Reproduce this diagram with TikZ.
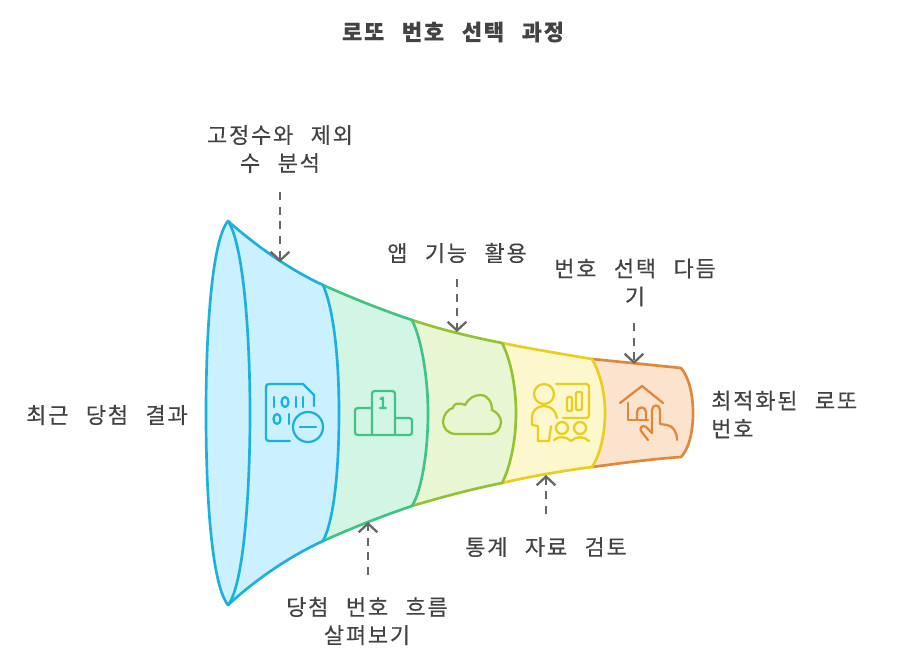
\documentclass[tikz,border=0pt]{standalone}
\usepackage{fontspec}
\usetikzlibrary{arrows.meta}
\newfontfamily\krfont[WordSpace=2.6,LetterSpace=8,FakeBold=0.25]{Noto Sans CJK KR}
\definecolor{ink}{HTML}{434343}
\definecolor{arrowgray}{HTML}{666666}
\definecolor{blueS}{HTML}{1CB0E0}\definecolor{blueF}{HTML}{CBF0FF}
\definecolor{greenS}{HTML}{3CC583}\definecolor{greenF}{HTML}{D3F5E4}
\definecolor{limeS}{HTML}{93C332}\definecolor{limeF}{HTML}{E9F6D3}
\definecolor{yellowS}{HTML}{E8CF1E}\definecolor{yellowF}{HTML}{FDF7CD}
\definecolor{orangeS}{HTML}{E18739}\definecolor{orangeF}{HTML}{FCE3CD}
\tikzset{
 lbl/.style={text=ink,font=\krfont\fontsize{16.5pt}{21pt}\selectfont,inner sep=0pt},
 ttl/.style={lbl,font=\krfont\bfseries\fontsize{16.5pt}{21pt}\selectfont},
 conn/.style={draw=arrowgray,line width=1.7pt,dash pattern=on 6pt off 5pt,-{Straight Barb[length=6.5pt,width=14pt,line width=1.7pt]}},
 seamline/.style={line width=2pt,line join=round,line cap=round},
 ico/.style={line width=1.7pt,line join=round,line cap=round},
}
\begin{document}
\begin{tikzpicture}[x=0.75pt,y=-0.75pt]
\useasboundingbox (0,0) rectangle (900,664);
% segment 5
\fill[orangeF] (592,359) .. controls (622,362) and (652,365) .. (681,368) .. controls (688,376) and (693,392) .. (693,413) .. controls (693,434) and (688,450) .. (681,457) .. controls (652,459) and (622,463) .. (592,467) -- cycle;
\draw[seamline,orangeS] (592,359) .. controls (622,362) and (652,365) .. (681,368) .. controls (688,376) and (693,392) .. (693,413) .. controls (693,434) and (688,450) .. (681,457) .. controls (652,459) and (622,463) .. (592,467);
% segment 4
\fill[yellowF] (502,343) .. controls (532,349) and (562,354) .. (592,359) .. controls (600,373) and (605,392) .. (605,413) .. controls (605,434) and (600,455) .. (592,467) .. controls (562,471) and (532,476) .. (502,483) -- cycle;
\draw[seamline,yellowS] (502,343) .. controls (532,349) and (562,354) .. (592,359) .. controls (600,373) and (605,392) .. (605,413) .. controls (605,434) and (600,455) .. (592,467) .. controls (562,471) and (532,476) .. (502,483);
% segment 3
\fill[limeF] (412,320) .. controls (442,330) and (472,337) .. (502,343) .. controls (510,358) and (516,385) .. (516,413) .. controls (516,441) and (510,468) .. (502,483) .. controls (472,489) and (442,497) .. (412,506) -- cycle;
\draw[seamline,limeS] (412,320) .. controls (442,330) and (472,337) .. (502,343) .. controls (510,358) and (516,385) .. (516,413) .. controls (516,441) and (510,468) .. (502,483) .. controls (472,489) and (442,497) .. (412,506);
% segment 2
\fill[greenF] (323,285) .. controls (352,298) and (382,310) .. (412,320) .. controls (422,340) and (428,380) .. (428,413) .. controls (428,450) and (422,490) .. (412,506) .. controls (382,516) and (352,528) .. (323,541) -- cycle;
\draw[seamline,greenS] (323,285) .. controls (352,298) and (382,310) .. (412,320) .. controls (422,340) and (428,380) .. (428,413) .. controls (428,450) and (422,490) .. (412,506) .. controls (382,516) and (352,528) .. (323,541);
% segment 1
\fill[blueF] (228,221) .. controls (255,245) and (290,270) .. (323,285) .. controls (334,310) and (339,360) .. (339,413) .. controls (339,470) and (334,520) .. (323,541) .. controls (290,556) and (255,580) .. (228,605) -- cycle;
\draw[seamline,blueS] (228,221) .. controls (255,245) and (290,270) .. (323,285) .. controls (334,310) and (339,360) .. (339,413) .. controls (339,470) and (334,520) .. (323,541) .. controls (290,556) and (255,580) .. (228,605);
% mouth
\filldraw[seamline,draw=blueS,fill=blueF] (228,221) .. controls (212,240) and (206,330) .. (206,413) .. controls (206,500) and (212,585) .. (228,605) .. controls (244,585) and (250,490) .. (250,413) .. controls (250,340) and (244,245) .. (228,221) -- cycle;
% icon 1
\begin{scope}[ico,blueS]
\draw (290,441) -- (269,441) .. controls (267,441) and (266,440) .. (266,438) -- (266,387) .. controls (266,385) and (267,384) .. (269,384) -- (303,384) -- (314,395) -- (314,406);
\draw (308,427) circle[radius=15];
\draw (300,427) -- (316,427);
\draw (274,397) -- (274,407);
\draw (285,402) ellipse[x radius=3.5,y radius=5];
\draw (296,397) -- (296,407);
\draw (303,397) -- (303,407);
\draw (277,419) ellipse[x radius=3.5,y radius=5];
\draw (289,414) -- (289,424);
\end{scope}
% icon 2
\begin{scope}[ico,greenS]
\draw[rounded corners=2pt] (372,408) -- (355,408) -- (355,435) -- (412,435) -- (412,418) -- (395,418);
\draw[rounded corners=2pt] (372,435) -- (372,391) -- (395,391) -- (395,435);
\draw (380.5,399) -- (383,397.5) -- (383,408) (380,408) -- (386,408);
\end{scope}
% icon 3
\draw[ico,limeS] (456,434) .. controls (448,434) and (443,428) .. (443,422) .. controls (443,415) and (448,409) .. (453,408) .. controls (453,404) and (458,402) .. (465,405) .. controls (468,399) and (474,395) .. (480,395) .. controls (488,395) and (492,402) .. (492,410) .. controls (497,412) and (501,417) .. (501,422) .. controls (501,429) and (496,434) .. (490,434) -- cycle;
% icon 4
\begin{scope}[ico,yellowS]
\draw (544,394) circle[radius=10];
\draw (557,418) .. controls (556,411) and (551,406) .. (544,406) .. controls (537,406) and (532,411) .. (532,417) -- (532,425) -- (538,426) -- (538,441) -- (549,441) -- (551,426);
\draw[rounded corners=2pt] (556,384) -- (589,384) -- (589,418) -- (563,418);
\draw[rounded corners=1pt] (567,397) rectangle (572,411);
\draw[rounded corners=1pt] (576,392) rectangle (582,410);
\draw (562,428) circle[radius=6];
\draw (580,428) circle[radius=6];
\draw (554,440) .. controls (558,436) and (566,436) .. (571,441) .. controls (576,436) and (584,436) .. (589,441);
\end{scope}
% icon 5
\begin{scope}[ico,orangeS]
\draw (620,403) -- (642,386) -- (663,403);
\draw (628,403) -- (628,420) -- (648,420);
\draw (637,420) -- (637,412) .. controls (637,406) and (646,406) .. (646,412) -- (646,420);
\draw (652,433) -- (652,410) .. controls (652,404) and (660,404) .. (660,410) -- (660,424) -- (667,425) .. controls (673,426) and (677,432) .. (677,440);
\draw (652,433) -- (646,427) .. controls (643,424) and (639,428) .. (641,431) -- (648,440);
\end{scope}
% labels
\node[ttl] (title) at (453,32) {로또 번호 선택 과정};
\node[lbl,align=center] (fixed) at (280,149) {고정수와 제외\\수 분석};
\node[lbl] (app) at (457,253) {앱 기능 활용};
\node[lbl,align=center] (refine) at (635,282.5) {번호 선택 다듬\\기};
\node[lbl] (recent) at (107,415) {최근 당첨 결과};
\node[lbl,align=left,anchor=west] (best) at (711,414.5) {최적화된 로또\\번호};
\node[lbl] (stats) at (546,547) {통계 자료 검토};
\node[lbl,align=center] (flow) at (367,621) {당첨 번호 흐름\\살펴보기};
% connector ends
\coordinate (fixedS) at (280,192); \coordinate (fixedT) at (280,262);
\coordinate (appS) at (457,279); \coordinate (appT) at (457,332);
\coordinate (refineS) at (634,323); \coordinate (refineT) at (634,364);
\coordinate (statsS) at (546,514); \coordinate (statsT) at (546,475);
\coordinate (flowS) at (368,575); \coordinate (flowT) at (368,522);
\draw[conn] (fixedS) -- (fixedT);
\draw[conn] (appS) -- (appT);
\draw[conn] (refineS) -- (refineT);
\draw[conn] (statsS) -- (statsT);
\draw[conn] (flowS) -- (flowT);
\end{tikzpicture}
\end{document}
